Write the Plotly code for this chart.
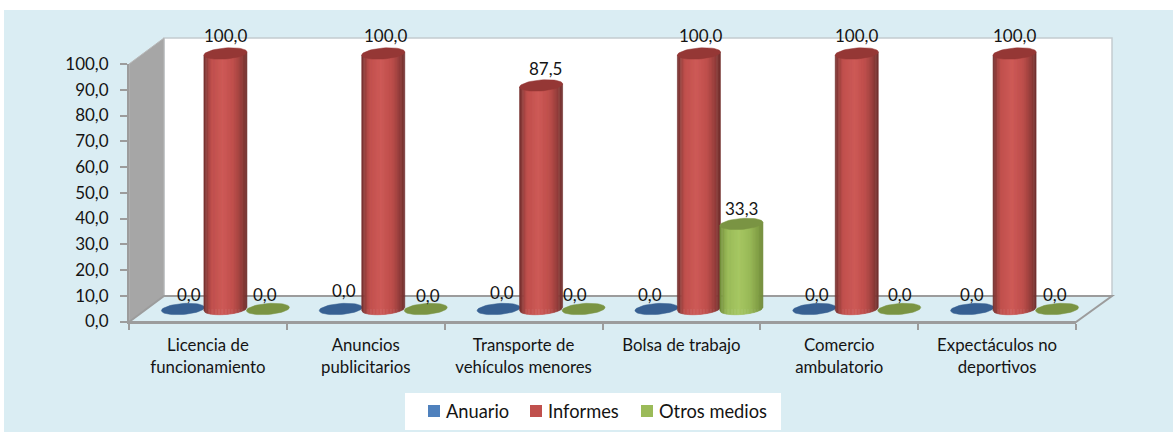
import math
import plotly.graph_objects as go

categories = ["Licencia de<br>funcionamiento", "Anuncios<br>publicitarios",
              "Transporte de<br>vehículos menores", "Bolsa de trabajo",
              "Comercio<br>ambulatorio", "Expectáculos no<br>deportivos"]
series_names = ["Anuario", "Informes", "Otros medios"]
anuario = [0.0, 0.0, 0.0, 0.0, 0.0, 0.0]
informes = [100.0, 100.0, 87.5, 100.0, 100.0, 100.0]
otros = [0.0, 0.0, 0.0, 33.3, 0.0, 0.0]
series_values = [anuario, informes, otros]
y_ticks = [0, 10, 20, 30, 40, 50, 60, 70, 80, 90, 100]

# --- styles and label nudges (px) ---
W, H = 1173, 432
FONT = "Lato"
INK = "#141414"
BG = "#DAEDF3"
AXIS = "#9C9C9C"
# (edge, mid, light, top-cap)
palette = [("#2a4a70", "#4F81BD", "#5a8cc8", "#376092"),
           ("#6f2f2d", "#C0504D", "#CE5B58", "#953735"),
           ("#6f8a38", "#9BBB59", "#A6C763", "#7A9443")]
legend_colors = ["#4F81BD", "#C0504D", "#9BBB59"]
label_dx = [[6, 3, 3, -6, 3, 0], [0, 2, 4, 2, 0, 0], [-3, 2, -9, 0, 1, -2]]
label_dy = [[-15, -19, -17, -15, -15, -15], [-18, -18, -17, -18, -18, -18], [-15, -14, -15, -15, -15, -15]]

FRONT_L, FRONT_R, FRONT_Y0, FRONT_Y100 = 129, 1076, 321.5, 64
BAR_Y0, BAR_PX = 309, 2.555         # cylinder scale on the mid-depth plane
CAT_PX = (FRONT_R - FRONT_L) / 6
MID_X0 = FRONT_L + 17.5
SPACING = 42.5 / CAT_PX
HALF_W = 21.5 / CAT_PX
ELL_B = 5.5 / BAR_PX
ELL_TILT = 1.6 / BAR_PX
STRIPS = 30


def px(x):
    return x / W


def py(y):
    return 1 - y / H


def path(points):
    return "M" + "L".join(f"{px(a):.5f},{py(b):.5f}" for a, b in points) + "Z"


def lerp_hex(a, b, t):
    ca = [int(a[i:i + 2], 16) for i in (1, 3, 5)]
    cb = [int(b[i:i + 2], 16) for i in (1, 3, 5)]
    return "#" + "".join(f"{round(p + (q - p) * t):02x}" for p, q in zip(ca, cb))


def shade(u, pal):
    edge, mid, light, _ = pal
    # u in [-1, 1]; light band slightly left of centre, right edge darkest
    if u < -0.65:
        return lerp_hex(edge, mid, (u + 1) / 0.35)
    if u < -0.1:
        return lerp_hex(mid, light, (u + 0.65) / 0.55)
    if u < 0.35:
        return lerp_hex(light, mid, (u + 0.1) / 0.45)
    return lerp_hex(mid, edge, ((u - 0.35) / 0.65) ** 1.3)


def front_edge(u, base):
    return base - ELL_B * math.sqrt(max(0, 1 - u * u)) + ELL_TILT * u


fig = go.Figure()

# invisible carrier for the front (tick) axes
fig.add_trace(go.Scatter(x=[0], y=[0], mode="none", showlegend=False, hoverinfo="skip"))

centers = []
for s, values in enumerate(series_values):
    xs = [i + 0.5 + (s - 1) * SPACING for i in range(len(values))]
    centers.append(xs)
    fig.add_trace(go.Bar(x=xs, y=values, width=HALF_W * 1.6, marker_color=palette[s][1],
                         marker_line_width=0, name=series_names[s], xaxis="x2", yaxis="y2",
                         showlegend=False))

for s, values in enumerate(series_values):
    # cylinder side, drawn as vertical strips
    for k in range(STRIPS):
        u0 = -1 + 2 * k / STRIPS
        u1 = -1 + 2 * (k + 1) / STRIPS
        um = (u0 + u1) / 2
        xp, yp = [], []
        for cx, v in zip(centers[s], values):
            if v <= 0:
                continue
            a0, a1 = cx + u0 * HALF_W, cx + u1 * HALF_W
            xp += [a0, a1, a1, a0, a0, None]
            yp += [front_edge(u0, 0), front_edge(u1, 0), v + ELL_TILT * u1,
                   v + ELL_TILT * u0, front_edge(u0, 0), None]
        if xp:
            c = shade(um, palette[s])
            fig.add_trace(go.Scatter(x=xp, y=yp, mode="lines", fill="toself", fillcolor=c,
                                     line=dict(color=c, width=0.6), xaxis="x2", yaxis="y2",
                                     showlegend=False, hoverinfo="skip"))
    # cap ellipse at the top of every cylinder (a flat disc when the value is zero)
    xp, yp = [], []
    for cx, v in zip(centers[s], values):
        for n in range(49):
            t = 2 * math.pi * n / 48
            xp.append(cx + HALF_W * math.cos(t))
            yp.append(v + ELL_B * math.sin(t) + ELL_TILT * math.cos(t))
        xp.append(None)
        yp.append(None)
    fig.add_trace(go.Scatter(x=xp, y=yp, mode="lines", fill="toself", fillcolor=palette[s][3],
                             line=dict(color=palette[s][3], width=0.5), xaxis="x2", yaxis="y2",
                             showlegend=False, hoverinfo="skip"))

annotations = []
for s, values in enumerate(series_values):
    for i, v in enumerate(values):
        annotations.append(dict(x=centers[s][i], y=v, xref="x2", yref="y2",
                                text=f"{v:.1f}".replace(".", ","), showarrow=False,
                                xshift=label_dx[s][i], yshift=-label_dy[s][i],
                                font=dict(family=FONT, size=17, color=INK)))

# manual legend: white box, squares, real text
legend_sq_x = [428, 530, 641]
legend_tx_x = [444, 546, 657]
shapes = [
    dict(type="rect", xref="paper", yref="paper", x0=px(4), x1=1, y0=0, y1=py(10),
         fillcolor=BG, line_width=0, layer="below"),
    dict(type="path", path=path([(164, 38), (1112, 38), (1112, 296), (164, 296)]), xref="paper", yref="paper",
         fillcolor="#FFFFFF", line=dict(color="#C4CCD0", width=1.5), layer="below"),
    dict(type="path", path=path([(FRONT_L, FRONT_Y100), (164, 38), (164, 296), (FRONT_L, 322)]),
         xref="paper", yref="paper", fillcolor="#A6A6A6", line=dict(color="#B8B8B8", width=1), layer="below"),
    dict(type="path", path=path([(FRONT_L, 322), (164, 296), (1112, 296), (FRONT_R, 322)]),
         xref="paper", yref="paper", fillcolor=BG, line=dict(color=AXIS, width=2), layer="below"),
    dict(type="rect", xref="paper", yref="paper", x0=px(405), x1=px(781), y0=py(430), y1=py(393),
         fillcolor="#FFFFFF", line_width=0, layer="below"),
]
for s, name in enumerate(series_names):
    shapes.append(dict(type="rect", xref="paper", yref="paper", x0=px(legend_sq_x[s]), x1=px(legend_sq_x[s] + 12),
                       y0=py(417), y1=py(405), fillcolor=legend_colors[s], line_width=0))
    annotations.append(dict(x=px(legend_tx_x[s]), y=py(411), xref="paper", yref="paper", text=name,
                            xanchor="left", yanchor="middle", showarrow=False,
                            font=dict(family=FONT, size=18.3, color=INK)))

fig.update_layout(
    width=W, height=H, margin=dict(l=0, r=0, t=0, b=0, pad=0),
    paper_bgcolor="#FFFFFF", plot_bgcolor="rgba(0,0,0,0)", barmode="overlay", showlegend=False,
    annotations=annotations, shapes=shapes,
    font=dict(family=FONT, color=INK),
    xaxis=dict(domain=[px(FRONT_L), px(FRONT_R)], range=[0, 6], anchor="y", automargin=False,
               tickmode="array", tickvals=[i + 0.5 for i in range(6)], ticktext=categories,
               ticks="", showgrid=False, zeroline=False, showline=True, linecolor=AXIS, linewidth=2,
               tickfont=dict(family=FONT, size=16.8, color=INK), ticklabelstandoff=7,
               minor=dict(tick0=0, dtick=1, ticks="outside", ticklen=6, tickcolor=AXIS, tickwidth=1.5)),
    yaxis=dict(domain=[py(FRONT_Y0), py(FRONT_Y100)], range=[0, 100], anchor="x", automargin=False,
               tickmode="array", tickvals=y_ticks, ticktext=[f"{t:.1f}".replace(".", ",") for t in y_ticks],
               ticks="outside", ticklen=7, tickcolor=AXIS, tickwidth=1.5, showgrid=False, zeroline=False,
               showline=True, linecolor=AXIS, linewidth=2, ticklabelstandoff=8,
               tickfont=dict(family=FONT, size=17, color=INK)),
    xaxis2=dict(domain=[0, 1], range=[-MID_X0 / CAT_PX, (W - MID_X0) / CAT_PX],
                anchor="y2", visible=False, automargin=False),
    yaxis2=dict(domain=[0, 1], range=[(BAR_Y0 - H) / BAR_PX, BAR_Y0 / BAR_PX],
                anchor="x2", visible=False, automargin=False),
)

fig.write_html("out.html", config={"displayModeBar": False},
               post_script="document.body.style.margin='0';document.body.style.overflow='hidden';")
